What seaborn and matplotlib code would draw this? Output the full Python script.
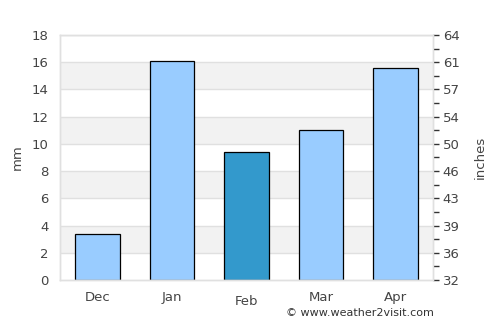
import matplotlib
matplotlib.use("Agg")
import matplotlib.pyplot as plt
import seaborn as sns
import numpy as np

months = ["Dec", "Jan", "Feb", "Mar", "Apr"]
rain_mm = [3.4, 16.1, 9.4, 11.0, 15.6]
bar_colors = ["#99ccff", "#99ccff", "#3399cc", "#99ccff", "#99ccff"]
mm_ticks = [0, 2, 4, 6, 8, 10, 12, 14, 16, 18]
right_labels = ["32", "36", "39", "43", "46", "50", "54", "57", "61", "64"]

sns.set_style("white")
plt.rcParams["font.family"] = ["DejaVu Sans"]
text_col = "#444444"
grid_col = "#e0e0e0"

fig = plt.figure(figsize=(5, 3.25), dpi=100)
ax = fig.add_axes([0.12, 0.1385, 0.746, 0.754])

# alternating bands
for i in range(1, len(mm_ticks) - 1, 2):
    ax.axhspan(mm_ticks[i], mm_ticks[i + 1], color="#f2f2f2", zorder=0, lw=0)
for t in mm_ticks[1:]:
    ax.axhline(t, color=grid_col, lw=1, zorder=0.5)

sns.barplot(x=months, y=rain_mm, hue=months, palette=bar_colors, width=0.6,
            saturation=1, edgecolor="black", linewidth=0.9, legend=False,
            ax=ax, zorder=2)

ax.set_xlim(-0.5, len(months) - 0.5)
ax.set_ylim(0, 18)
ax.set_yticks(mm_ticks)
ax.set_ylabel("mm", color=text_col, fontsize=9.5, labelpad=6)
ax.set_xlabel("")
ax.tick_params(axis="both", length=0, labelsize=9.5, colors=text_col)
ax.tick_params(axis="x", pad=8)
ax.tick_params(axis="y", pad=8)
ax.xaxis.get_major_ticks()[2].set_pad(11)
for s in ax.spines.values():
    s.set_color(grid_col)
    s.set_linewidth(1)

ax2 = ax.twinx()
ax2.set_ylim(0, 18)
ax2.set_yticks(mm_ticks)
ax2.set_yticklabels(right_labels)
ax2.set_yticks(np.arange(1, 18, 2), minor=True)
ax2.tick_params(axis="y", which="both", length=4, width=1, color="#333333",
                labelsize=9.5, labelcolor=text_col, direction="out", pad=3)
ax2.set_ylabel("inches", color=text_col, fontsize=9.5, labelpad=10)
for s in ax2.spines.values():
    s.set_color(grid_col)
    s.set_linewidth(1)

fig.text(0.868, 0.022, "\u00a9 www.weather2visit.com", ha="right", va="bottom",
         fontsize=8, color="#333333")

fig.savefig("out.png", dpi=100)
